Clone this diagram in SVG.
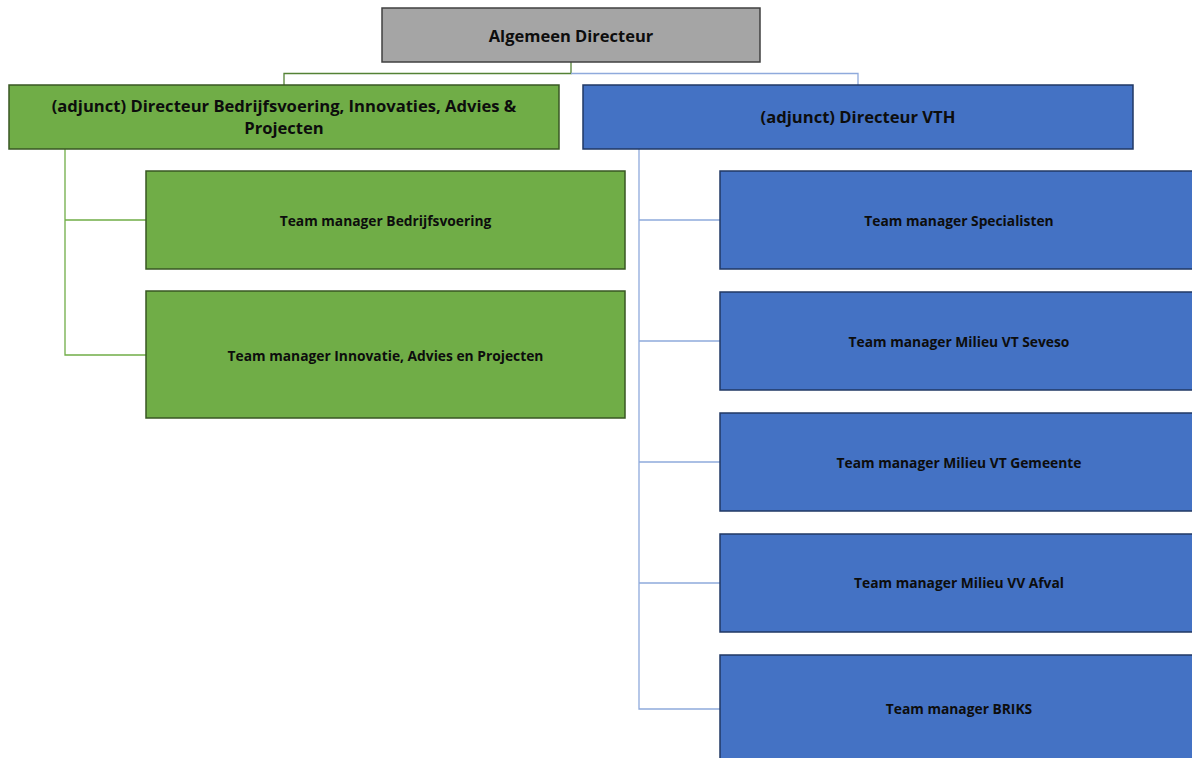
<svg xmlns="http://www.w3.org/2000/svg" width="1192" height="758" viewBox="0 0 1192 758">
<style>
text{font-family:"Open Sans","Liberation Sans",sans-serif;font-weight:bold;fill:#0d0d0d;text-anchor:middle;dominant-baseline:central}
.big{font-size:16.5px}
.mid{font-size:16.6px}
.sm{font-size:13.8px}
.grey{fill:#a5a5a5;stroke:#404040;stroke-width:1.5}
.green{fill:#70ad47;stroke:#385723;stroke-width:1.5}
.blue{fill:#4472c4;stroke:#203864;stroke-width:1.5}
.gl{fill:none;stroke:#70ad47;stroke-width:1.3}
.gd{fill:none;stroke:#548235;stroke-width:1.3}
.bl{fill:none;stroke:#8faadc;stroke-width:1.3}
</style>
<rect width="1192" height="758" fill="#fff"/>
<g id="connectors">
<path class="gd" d="M571 62 V73.5 H284 V85"/>
<path class="bl" d="M571 73.5 H858 V85"/>
<path class="gl" d="M65 149 V355 H146 M65 220 H146"/>
<path class="bl" d="M639 149 V709 H720 M639 220 H720 M639 341 H720 M639 462 H720 M639 583 H720"/>
</g>
<g id="n-algemeen"><rect class="grey" x="382" y="8" width="378" height="54"/><text class="big" x="571" y="35">Algemeen Directeur</text></g>
<g id="n-bedrijf"><rect class="green" x="9" y="85" width="550" height="64"/><text class="mid" x="284" y="105">(adjunct) Directeur Bedrijfsvoering, Innovaties, Advies &amp;</text><text class="mid" x="284" y="127">Projecten</text></g>
<g id="n-vth"><rect class="blue" x="583" y="85" width="550" height="64"/><text class="mid" x="858" y="116">(adjunct) Directeur VTH</text></g>
<g id="n-tm-bedrijf"><rect class="green" x="146" y="171" width="479" height="98"/><text class="sm" x="385.5" y="220">Team manager Bedrijfsvoering</text></g>
<g id="n-tm-innovatie"><rect class="green" x="146" y="291" width="479" height="127"/><text class="sm" x="385.5" y="355">Team manager Innovatie, Advies en Projecten</text></g>
<g id="n-tm-spec"><rect class="blue" x="720" y="171" width="478" height="98"/><text class="sm" x="959" y="220">Team manager Specialisten</text></g>
<g id="n-tm-seveso"><rect class="blue" x="720" y="292" width="478" height="98"/><text class="sm" x="959" y="341">Team manager Milieu VT Seveso</text></g>
<g id="n-tm-gemeente"><rect class="blue" x="720" y="413" width="478" height="98"/><text class="sm" x="959" y="462">Team manager Milieu VT Gemeente</text></g>
<g id="n-tm-afval"><rect class="blue" x="720" y="534" width="478" height="98"/><text class="sm" x="959" y="582">Team manager Milieu VV Afval</text></g>
<g id="n-tm-briks"><rect class="blue" x="720" y="655" width="478" height="110"/><text class="sm" x="959" y="708">Team manager BRIKS</text></g>
</svg>
